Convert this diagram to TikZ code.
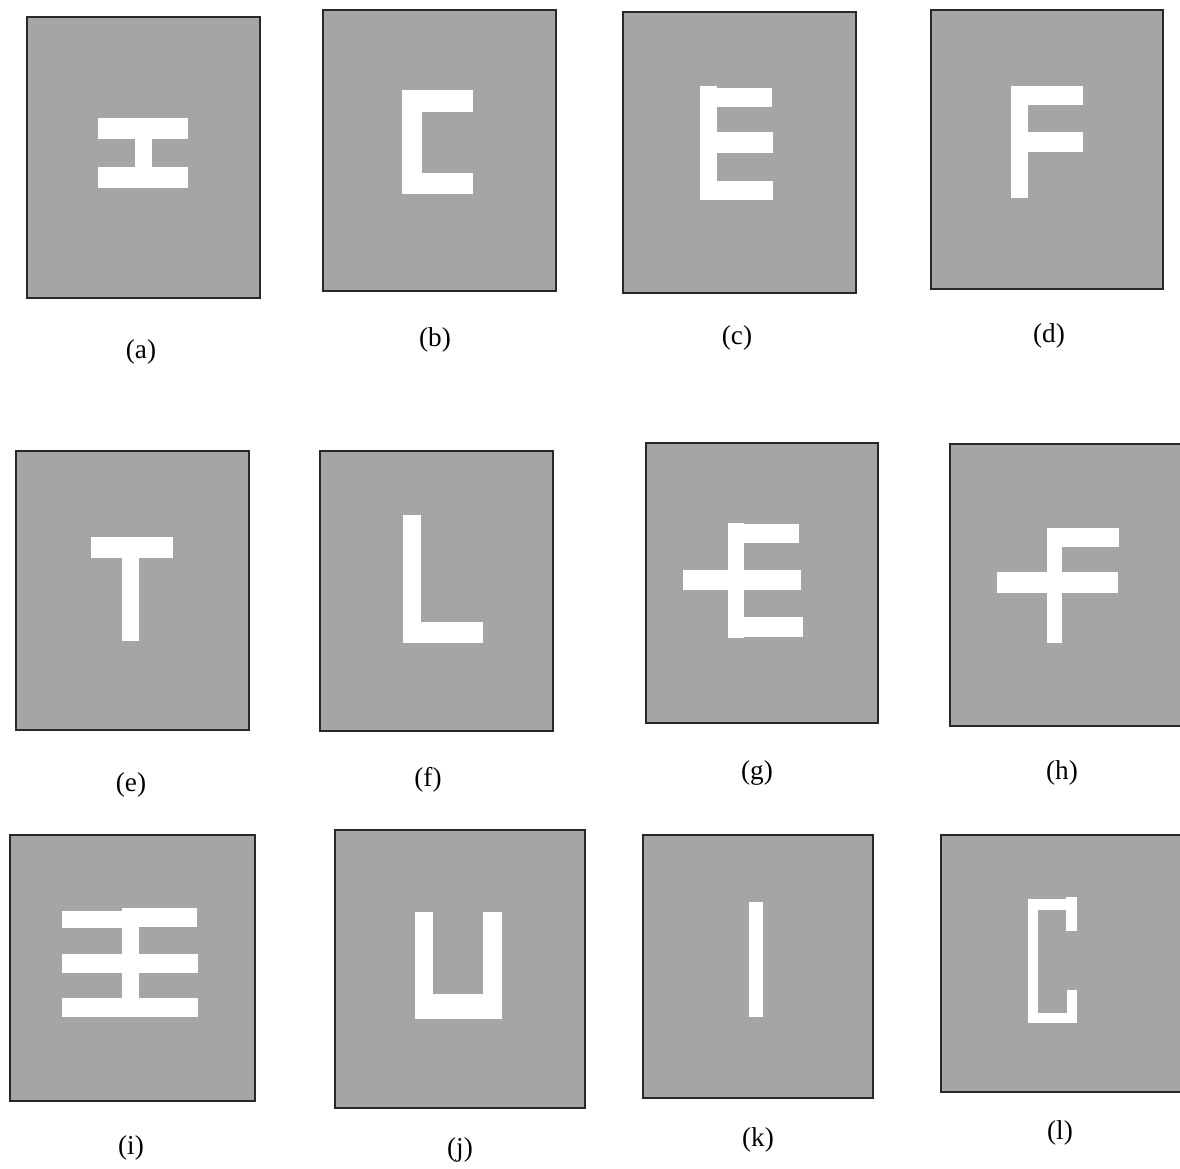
\documentclass[tikz,border=0pt]{standalone}
\usepackage{fontspec}
\setmainfont{Liberation Serif}
\definecolor{panelgray}{RGB}{165,165,165}
\definecolor{edgegray}{RGB}{40,40,40}
\tikzset{
  panel/.style={fill=panelgray,draw=edgegray,line width=0.9pt},
  glyph/.style={fill=white},
  lab/.style={font=\fontsize{15.5}{18}\selectfont,inner sep=0pt}
}
\begin{document}
\begin{tikzpicture}[x={(0.02cm,0)},y={(0,-0.02cm)}]
\useasboundingbox (0,0) rectangle (1180,1169);
\fill[white] (0,0) rectangle (1180,1169);
\begin{scope}
\clip (0,0) rectangle (1180,1169);
% ---------- row 1 ----------
% (a)
\draw[panel] (27,17) rectangle (260,298);
\fill[glyph] (98,118) rectangle (188,139.5);
\fill[glyph] (135,139) rectangle (151.7,167);
\fill[glyph] (98,166.7) rectangle (188,188.3);
% (b)
\draw[panel] (323,10) rectangle (556,291);
\fill[glyph] (402,90) rectangle (473.3,111.7);
\fill[glyph] (402,90) rectangle (422.3,194.3);
\fill[glyph] (402,172.7) rectangle (473.3,194.3);
% (c)
\draw[panel] (623,12) rectangle (856,293);
\fill[glyph] (700,85.7) rectangle (716.7,200);
\fill[glyph] (700,88.3) rectangle (771.7,106.7);
\fill[glyph] (700,132.3) rectangle (773.3,153.3);
\fill[glyph] (700,181) rectangle (773.3,200);
% (d)
\draw[panel] (931,10) rectangle (1163,289);
\fill[glyph] (1011,85.7) rectangle (1027.7,198.3);
\fill[glyph] (1011,85.7) rectangle (1082.7,105);
\fill[glyph] (1011,132.3) rectangle (1082.7,151.7);
% ---------- row 2 ----------
% (e)
\draw[panel] (16,451) rectangle (249,730);
\fill[glyph] (91,536.7) rectangle (173.3,557.7);
\fill[glyph] (122.3,557) rectangle (139,640.7);
% (f)
\draw[panel] (320,451) rectangle (553,731);
\fill[glyph] (403.3,515) rectangle (420.7,643.3);
\fill[glyph] (403.3,621.7) rectangle (482.7,643.3);
% (g)
\draw[panel] (646,443) rectangle (878,723);
\fill[glyph] (727.7,523.3) rectangle (744,638.3);
\fill[glyph] (727.7,524) rectangle (799.3,542.7);
\fill[glyph] (683.3,570) rectangle (801,590);
\fill[glyph] (744,617.3) rectangle (803.3,636.7);
% (h)
\draw[panel] (950,444) rectangle (1184,726);
\fill[glyph] (1046.7,528.3) rectangle (1062.3,642.7);
\fill[glyph] (1046.7,528.3) rectangle (1119.3,546.7);
\fill[glyph] (996.7,572.3) rectangle (1117.7,593.3);
% ---------- row 3 ----------
% (i)
\draw[panel] (10,835) rectangle (255,1101);
\fill[glyph] (62.3,910.7) rectangle (122,928.3);
\fill[glyph] (121.7,908.3) rectangle (196.7,926.7);
\fill[glyph] (121.7,908.3) rectangle (139.3,998.5);
\fill[glyph] (62.3,954.3) rectangle (198.3,972.7);
\fill[glyph] (62.3,998.3) rectangle (198.3,1017.3);
% (j)
\draw[panel] (335,830) rectangle (585,1108);
\fill[glyph] (415,912.3) rectangle (433.3,1019.3);
\fill[glyph] (483.3,912.3) rectangle (501.7,1019.3);
\fill[glyph] (415,994) rectangle (501.7,1019.3);
% (k)
\draw[panel] (643,835) rectangle (873,1098);
\fill[glyph] (749.3,901.7) rectangle (762.7,1017.3);
% (l)
\draw[panel] (941,835) rectangle (1184,1092);
\fill[glyph] (1028.3,899.3) rectangle (1038.3,1023.3);
\fill[glyph] (1028.3,899.3) rectangle (1067,910);
\fill[glyph] (1066,897.3) rectangle (1076.7,931);
\fill[glyph] (1028.3,1012.7) rectangle (1076.7,1023.3);
\fill[glyph] (1067.3,990) rectangle (1076.7,1023.3);
\end{scope}
% ---------- labels ----------
\node[lab] (la) at (141,352) {(a)};
\node[lab] (lb) at (435,340) {(b)};
\node[lab] (lc) at (737,338) {(c)};
\node[lab] (ld) at (1049,336) {(d)};
\node[lab] (le) at (131,785) {(e)};
\node[lab] (lf) at (428,780) {(f)};
\node[lab] (lg) at (757,773) {(g)};
\node[lab] (lh) at (1062,773) {(h)};
\node[lab] (li) at (131,1148) {(i)};
\node[lab] (lj) at (460,1150) {(j)};
\node[lab] (lk) at (758,1140) {(k)};
\node[lab] (ll) at (1060,1133) {(l)};
\end{tikzpicture}
\end{document}
